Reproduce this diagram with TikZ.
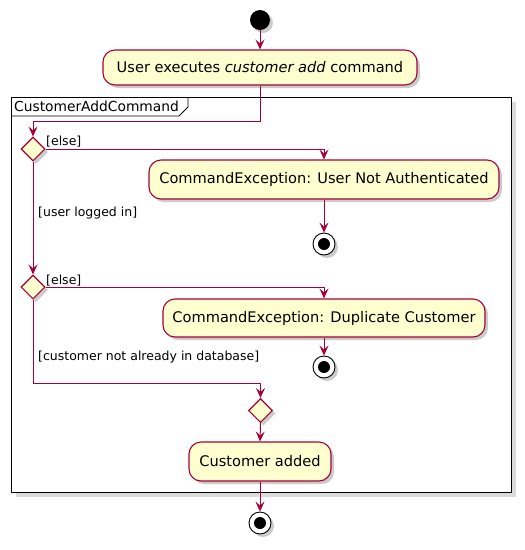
\documentclass[tikz,border=0pt]{standalone}
\usepackage{fontspec}
\setmainfont{DejaVu Sans}
\usetikzlibrary{arrows.meta,shadows,shapes.geometric}
\definecolor{pfill}{HTML}{FEFECE}
\definecolor{pline}{HTML}{A80036}
\begin{document}
\begin{tikzpicture}[x=1pt,y=-1pt,
  shad/.style={drop shadow={shadow xshift=3pt,shadow yshift=-3pt,fill=black!40,opacity=.5}},
  fshad/.style={drop shadow={shadow xshift=5pt,shadow yshift=-5pt,fill=black!14,opacity=1}},
  act/.style={draw=pline, fill=pfill, line width=1.1pt, rounded corners=12pt, minimum height=37pt, inner sep=0pt, font=\fontsize{14.6}{17}\selectfont, shad},
  dec/.style={diamond, draw=pline, fill=pfill, line width=1.1pt, minimum width=24pt, minimum height=24pt, inner sep=0pt, shad},
  startc/.style={circle, fill=black, minimum size=20pt, inner sep=0pt, shad},
  stopc/.style={circle, draw=black, fill=white, line width=0.9pt, minimum size=22pt, inner sep=0pt, shad,
    path picture={\fill[black] (path picture bounding box.center) circle (6pt);}},
  flow/.style={draw=pline, line width=1pt, -{Stealth[length=10pt,width=9pt,inset=4pt]}},
  lbl/.style={font=\fontsize{12.5}{14}\selectfont, inner sep=0pt, anchor=base west},
  ]
\useasboundingbox[fill=white] (0,0) rectangle (525,550);
% frame
\draw[black, line width=0.9pt, fill=white, fshad] (11,97) rectangle (511,492);
\draw[black, line width=0.9pt] (11,116) -- (179,116) -- (188,107) -- (188,97);
\node[font=\fontsize{13.8}{16}\selectfont, inner sep=0pt, anchor=base west] (ftitle) at (14,111) {CustomerAddCommand};
% nodes
\node[startc] (s) at (260,20) {};
\node[act, minimum width=314pt, minimum height=35pt] (a0) at (260,67.5) {User executes \textit{customer add} command};
\node[dec] (d1) at (33,149) {};
\node[act, minimum width=350pt, minimum height=39pt] (e1) at (324,179.5) {CommandException: User Not Authenticated};
\node[stopc] (st1) at (324,244) {};
\node[dec] (d2) at (33,287) {};
\node[act, minimum width=322pt, minimum height=38pt] (e2) at (324,318) {CommandException: Duplicate Customer};
\node[stopc] (st2) at (324,367) {};
\node[dec] (m) at (260.5,410.5) {};
\node[act, minimum width=142pt, minimum height=39pt] (a3) at (260,461.5) {Customer added};
\node[stopc] (fin) at (260,523) {};
\coordinate (j1) at (260,121);
\coordinate (j2) at (33,383);
% connectors
\draw[flow] (s) -- (a0);
\draw[flow] (a0.south) -- (j1) -| (d1.north);
\draw[flow] (d1.east) -| (e1.north);
\draw[flow] (e1.south) -- (st1.north);
\draw[flow] (d1.south) -- (d2.north);
\draw[flow] (d2.east) -| (e2.north);
\draw[flow] (e2.south) -- (st2.north);
\draw[flow] (d2.south) -- (j2) -| (m.north);
\draw[flow] (m.south) -- (a3.north);
\draw[flow] (a3.south) -- (fin.north);
% labels
\node[lbl] (l1) at (46,145) {[else]};
\node[lbl] (l2) at (38,216) {[user logged in]};
\node[lbl] (l3) at (46,284) {[else]};
\node[lbl] (l4) at (38,360) {[customer not already in database]};
\end{tikzpicture}
\end{document}
